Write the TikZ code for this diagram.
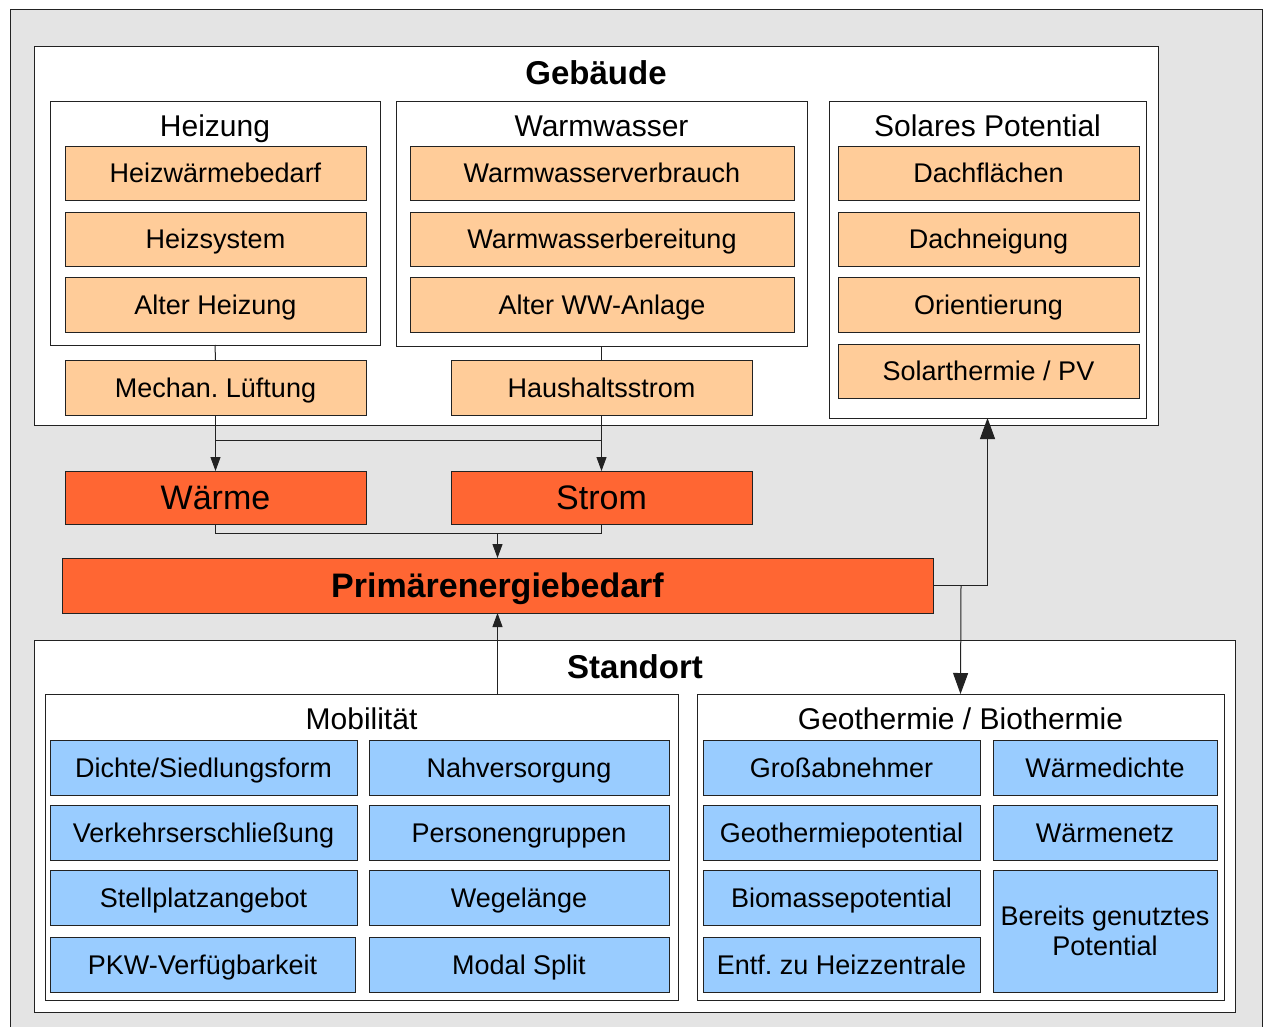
\documentclass[tikz,border=0pt]{standalone}
\usepackage{fontspec}
\setmainfont{Liberation Sans}
\usetikzlibrary{arrows.meta}
\frenchspacing
\definecolor{bggray}{HTML}{E4E4E4}
\definecolor{lorange}{HTML}{FFCC99}
\definecolor{dorange}{HTML}{FF6633}
\definecolor{lblue}{HTML}{99CCFF}
\definecolor{lc}{HTML}{222222}
\tikzset{
  every node/.style={inner sep=0pt, outer sep=0pt},
  capc/.style={text height=#1, text depth=0pt},
  grp/.style={draw=lc, line width=1pt, fill=white, rectangle},
  obox/.style={draw=lc, line width=1pt, fill=lorange, rectangle, font=\fontsize{27}{30}\selectfont, capc=19.3pt},
  rbox/.style={draw=lc, line width=1pt, fill=dorange, rectangle, font=\fontsize{34}{38}\selectfont, capc=24.3pt},
  pbox/.style={draw=lc, line width=1pt, fill=dorange, rectangle, font=\fontsize{34}{38}\selectfont\bfseries, capc=24.3pt},
  bbox/.style={draw=lc, line width=1pt, fill=lblue, rectangle, font=\fontsize{27}{30}\selectfont, capc=19.3pt},
  bbox2/.style={draw=lc, line width=1pt, fill=lblue, rectangle, font=\fontsize{27}{30}\selectfont, align=center},
  gtitle/.style={font=\fontsize{30}{34}\selectfont, capc=21.5pt},
  btitle/.style={font=\fontsize{33}{38}\selectfont\bfseries, capc=23.6pt},
  conn/.style={draw=lc, line width=1pt},
  sarr/.style={conn, -{Triangle[width=10pt,length=14pt]}},
  barr/.style={conn, -{Triangle[width=15pt,length=21pt]}},
}
% box by corners: #1 name, #2 style, #3 x1, #4 y1, #5 x2, #6 y2, #7 text
\newcommand\cbox[7]{%
  \pgfmathsetmacro\cbw{#5-#3}\pgfmathsetmacro\cbh{#6-#4}%
  \node[#2, minimum width=\cbw pt, minimum height=\cbh pt] (#1) at ({(#3+#5)/2},{(#4+#6)/2}) {#7};}
\begin{document}
\begin{tikzpicture}[x=1pt,y=-1pt]
\useasboundingbox (0,0) rectangle (1263,1026);
% outer background
\fill[white] (0,0) rectangle (1263,1026);
\draw[draw=lc, line width=1pt, fill=bggray] (10,9) rectangle (1262,1040);

% Gebaeude
\cbox{geb}{grp}{34}{46}{1158}{425}{}
\node[btitle] (gebt) at (596,72.5) {Gebäude};

\cbox{heiz}{grp}{50}{101}{380}{345}{}
\node[gtitle] (heizt) at (215,125.5) {Heizung};
\cbox{hwb}{obox}{65}{146}{366}{200}{Heizwärmebedarf}
\cbox{hsys}{obox}{65}{212}{366}{266}{Heizsystem}
\cbox{halt}{obox}{65}{277}{366}{332}{Alter Heizung}

\cbox{ww}{grp}{396}{101}{807}{346}{}
\node[gtitle] (wwt) at (601.5,125.5) {Warmwasser};
\cbox{wwv}{obox}{410}{146}{794}{200}{Warmwasserverbrauch}
\cbox{wwb}{obox}{410}{212}{794}{266}{Warmwasserbereitung}
\cbox{wwa}{obox}{410}{277}{794}{332}{Alter WW-Anlage}

\cbox{lueft}{obox}{65}{360}{366}{415}{Mechan. Lüftung}
\cbox{haus}{obox}{451}{360}{752}{415}{Haushaltsstrom}

\cbox{sol}{grp}{829}{101}{1146}{418}{}
\node[gtitle] (solt) at (987.5,125.5) {Solares Potential};
\cbox{dfl}{obox}{838}{146}{1139}{200}{Dachflächen}
\cbox{dng}{obox}{838}{212}{1139}{266}{Dachneigung}
\cbox{ori}{obox}{838}{277}{1139}{332}{Orientierung}
\cbox{spv}{obox}{838}{344}{1139}{398}{Solarthermie / PV}

% Waerme / Strom / Primaer
\cbox{waerme}{rbox}{65}{471}{366}{524}{Wärme}
\cbox{strom}{rbox}{451}{471}{752}{524}{Strom}
\cbox{prim}{pbox}{62}{558}{933}{613}{Primärenergiebedarf}

% Standort
\cbox{sto}{grp}{34}{640}{1235}{1012}{}
\node[btitle] (stot) at (635,667) {Standort};

\cbox{mob}{grp}{45}{694}{678}{1000}{}
\node[gtitle] (mobt) at (361.5,718.5) {Mobilität};
\cbox{m1}{bbox}{50}{740}{357}{795}{Dichte/Siedlungsform}
\cbox{m2}{bbox}{50}{805}{357}{860}{Verkehrserschließung}
\cbox{m3}{bbox}{50}{870}{357}{925}{Stellplatzangebot}
\cbox{m4}{bbox}{50}{937}{355}{992}{PKW-Verfügbarkeit}
\cbox{m5}{bbox}{369}{740}{669}{795}{Nahversorgung}
\cbox{m6}{bbox}{369}{805}{669}{860}{Personengruppen}
\cbox{m7}{bbox}{369}{870}{669}{925}{Wegelänge}
\cbox{m8}{bbox}{369}{937}{669}{992}{Modal Split}

\cbox{geo}{grp}{697}{694}{1224}{1000}{}
\node[gtitle] (geot) at (960.5,718.5) {Geothermie / Biothermie};
\cbox{g1}{bbox}{703}{740}{980}{795}{Großabnehmer}
\cbox{g2}{bbox}{703}{805}{980}{860}{Geothermiepotential}
\cbox{g3}{bbox}{703}{870}{980}{925}{Biomassepotential}
\cbox{g4}{bbox}{703}{937}{980}{992}{Entf. zu Heizzentrale}
\cbox{g5}{bbox}{993}{740}{1217}{795}{Wärmedichte}
\cbox{g6}{bbox}{993}{805}{1217}{860}{Wärmenetz}
\cbox{g7}{bbox2}{993}{870}{1217}{992}{Bereits genutztes\\Potential}

% connectors
\coordinate (jl) at (215.5,440);
\coordinate (jr) at (601.5,440);
\coordinate (jb) at (497.5,533);
\coordinate (jp) at (961,585.5);
\draw[conn] (heiz.south) -- (lueft.north);
\draw[conn] (ww.south) -- (haus.north);
\draw[sarr] (lueft.south) -- (waerme.north);
\draw[sarr] (haus.south) -- (strom.north);
\draw[conn] (jl) -- (jr);
\draw[conn] (waerme.south) |- (jb) -| (strom.south);
\draw[sarr] (jb) -- (prim.north);
\draw[barr] (prim.east) -| (sol.south);
\draw[barr] (jp) -- (geo.north);
\draw[sarr] (mob.north -| prim.south) -- (prim.south);
\end{tikzpicture}
\end{document}
